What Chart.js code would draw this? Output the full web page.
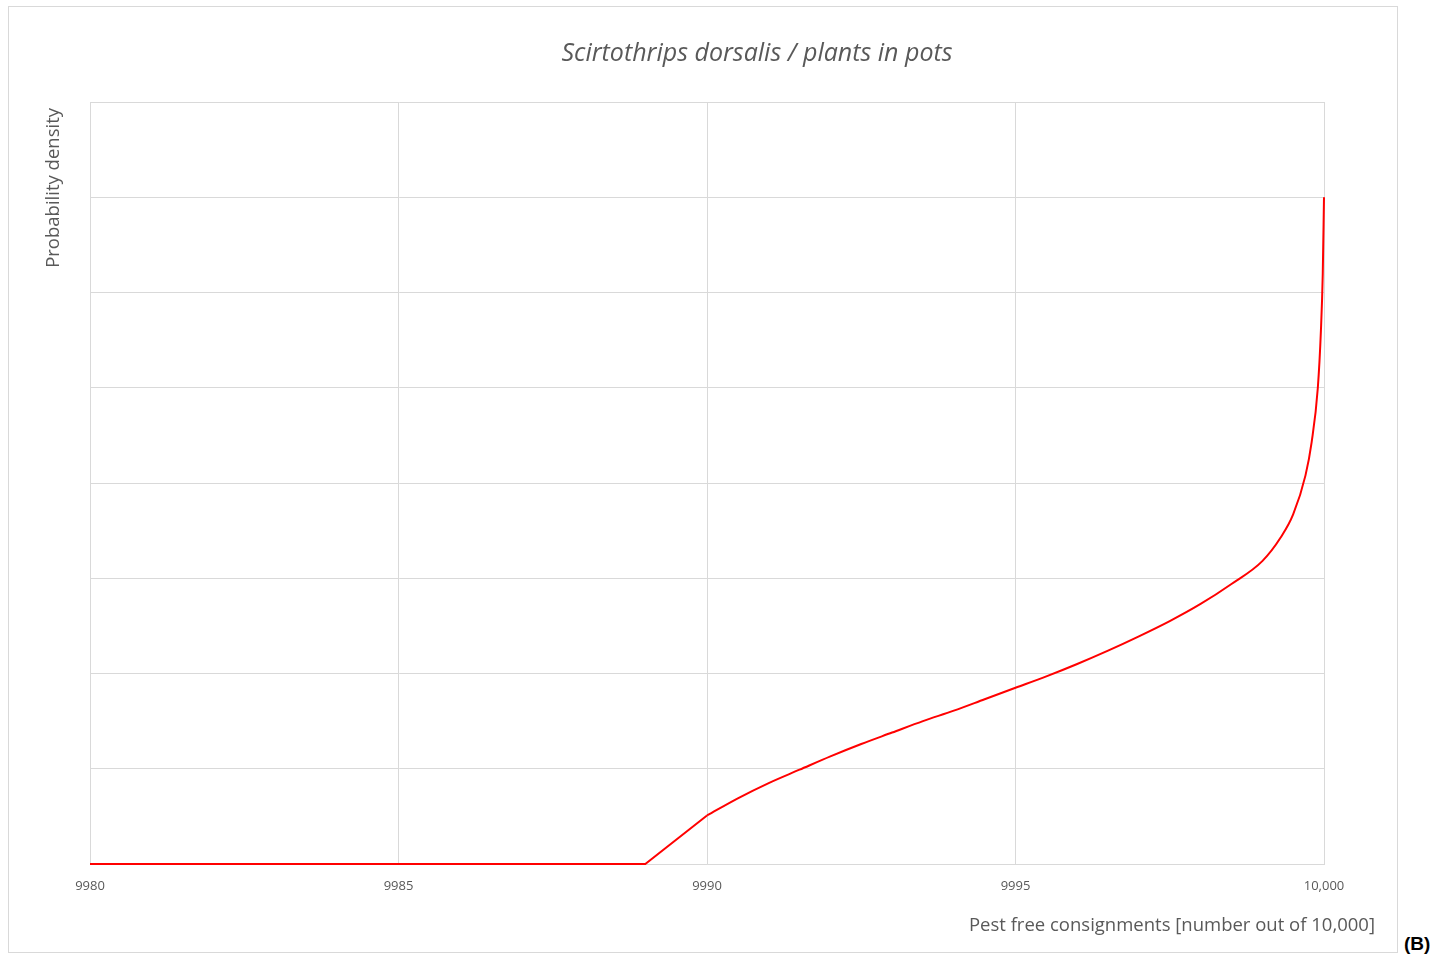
<!DOCTYPE html>
<html>
<head>
<meta charset="utf-8">
<script src="https://cdn.jsdelivr.net/npm/chart.js@4/dist/chart.umd.min.js"></script>
<style>
  body { margin: 0; background: #fff; }
  #frame {
    position: absolute; left: 8px; top: 6px;
    width: 1388px; height: 945px;
    border: 1px solid #d9d9d9;
  }
  #tag {
    position: absolute; left: 1404px; top: 933px;
    font: bold 19px "Liberation Sans", Arial, sans-serif; color: #000;
  }
</style>
</head>
<body>
<div id="frame"><canvas id="chart"></canvas></div>
<div id="tag">(B)</div>
<script>
// values
const chartTitle = 'Scirtothrips dorsalis / plants in pots';
const xAxisTitle = 'Pest free consignments [number out of 10,000]';
const yAxisTitle = 'Probability density';

const consignments = [9980, 9989, 9990, 9990.5, 9991, 9991.5, 9992, 9992.5, 9993, 9993.5,
  9994, 9994.5, 9995, 9995.5, 9996, 9996.5, 9997, 9997.5, 9998, 9998.5, 9999,
  9999.3, 9999.5, 9999.7, 9999.8, 9999.9, 9999.95, 9999.98, 10000];
const density = [0, 0, 0.51, 0.69, 0.85, 0.99, 1.13, 1.26, 1.38, 1.50,
  1.61, 1.73, 1.85, 1.97, 2.10, 2.24, 2.39, 2.55, 2.73, 2.94, 3.18,
  3.43, 3.67, 4.08, 4.43, 5.0, 5.6, 6.2, 7.0];

// the ramp up to 9990 is straight, the rest is a smooth curve
const rampEnd = 3;

const xTicks = [9980, 9985, 9990, 9995, 10000];

const textColor = '#595959';
const gridColor = '#d9d9d9';
const lineColor = '#ff0000';

const toPoints = (from, to) =>
  consignments.slice(from, to).map((x, i) => ({ x: x, y: density[from + i] }));

// title and axis titles sit off-centre in the original, so draw them by hand
const textPlugin = {
  id: 'frameText',
  afterDraw(chart) {
    const { ctx, chartArea } = chart;
    ctx.save();
    ctx.fillStyle = textColor;
    ctx.textBaseline = 'middle';
    ctx.font = 'italic 25px "Open Sans", sans-serif';
    ctx.textAlign = 'center';
    ctx.fillText(chartTitle, (chartArea.left + chartArea.right) / 2 + 50, 47);
    ctx.font = '18.5px "Open Sans", sans-serif';
    ctx.textAlign = 'right';
    ctx.fillText(xAxisTitle, chartArea.right + 51, 919);
    ctx.translate(45, chartArea.top + 6);
    ctx.rotate(-Math.PI / 2);
    ctx.fillText(yAxisTitle, 0, 0);
    ctx.restore();
  },
};

new Chart(document.getElementById('chart'), {
  type: 'line',
  data: {
    datasets: [
      {
        data: toPoints(0, rampEnd),
        borderColor: lineColor,
        borderWidth: 2,
        pointRadius: 0,
        tension: 0,
        clip: 4,
      },
      {
        data: toPoints(rampEnd - 1, consignments.length),
        borderColor: lineColor,
        borderWidth: 2,
        pointRadius: 0,
        cubicInterpolationMode: 'monotone',
        clip: 4,
      },
    ],
  },
  options: {
    responsive: true,
    maintainAspectRatio: false,
    animation: false,
    layout: { padding: { top: 95, right: 73, left: 29, bottom: 48 } },
    plugins: {
      legend: { display: false },
      tooltip: { enabled: false },
      title: { display: false },
    },
    scales: {
      x: {
        type: 'linear',
        min: 9980,
        max: 10000,
        afterBuildTicks: (scale) => { scale.ticks = xTicks.map(v => ({ value: v })); },
        afterFit: (scale) => { scale.height = 40; },
        ticks: {
          color: textColor,
          font: { family: '"Open Sans", sans-serif', size: 13 },
          padding: 14,
          maxRotation: 0,
          callback: (v) => (v >= 10000 ? v.toLocaleString('en-US') : String(v)),
        },
        grid: { color: gridColor, drawTicks: false },
        border: { color: gridColor },
      },
      y: {
        min: 0,
        max: 8,
        afterFit: (scale) => { scale.width = 52; },
        ticks: { display: false, stepSize: 1 },
        grid: { color: gridColor, drawTicks: false },
        border: { color: gridColor },
      },
    },
  },
  plugins: [textPlugin],
});
</script>
</body>
</html>
